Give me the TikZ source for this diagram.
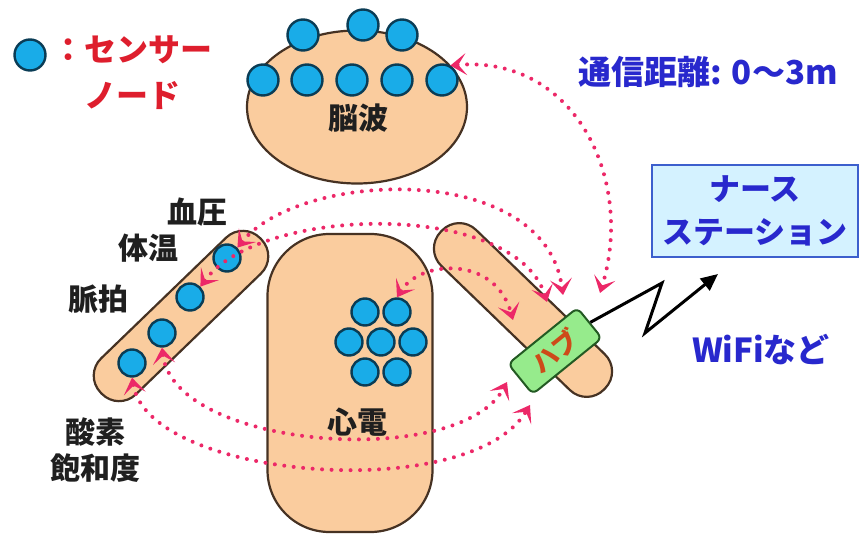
\documentclass[tikz,border=0pt]{standalone}
\usepackage{fontspec}
\setmainfont{Noto Sans CJK JP}
\usetikzlibrary{arrows.meta, shapes.geometric, positioning}

\definecolor{skin}{RGB}{250,204,158}
\definecolor{skinline}{RGB}{70,50,35}
\definecolor{sens}{RGB}{25,172,232}
\definecolor{sensline}{RGB}{10,60,85}
\definecolor{linkred}{RGB}{236,40,104}
\definecolor{legred}{RGB}{222,30,45}
\definecolor{navy}{RGB}{40,40,205}
\definecolor{boxfill}{RGB}{212,242,255}
\definecolor{boxline}{RGB}{60,95,205}
\definecolor{hubfill}{RGB}{150,235,140}
\definecolor{hubline}{RGB}{35,90,35}
\definecolor{hubtext}{RGB}{205,75,25}

\begin{document}
\begin{tikzpicture}[x=1pt, y=-1pt,
    body/.style={draw=skinline, fill=skin, line width=2.2pt, inner sep=0pt},
    sensor/.style={circle, draw=sensline, fill=sens, line width=2.4pt, inner sep=0pt, minimum size=#1},
    sensor/.default=31pt,
    lbl/.style={font=\fontsize{30}{34}\selectfont\bfseries, text=black!88, inner sep=0pt},
    note/.style={font=\fontsize{33}{36}\selectfont\bfseries, text=navy, inner sep=0pt},
    link/.style={draw=linkred, line width=4pt, line cap=round, dash pattern=on 0pt off 9.5pt,
        >={Stealth[length=16pt,width=22pt,inset=8pt]}, <->},
    bolt/.style={draw=black, line width=3pt, -{Triangle[length=17pt,width=15pt]}},
  ]
  \useasboundingbox (0,0) rectangle (865,537);

  % body
  \node[body, ellipse, minimum width=220pt, minimum height=153pt] (head) at (357,107) {};
  \node[body, rounded corners=62pt, minimum width=165pt, minimum height=298pt] (torso) at (350,383) {};
  \node[body, rounded corners=24pt, minimum width=222pt, minimum height=50pt, rotate=44] (larm) at (181,316) {};
  \node[body, rounded corners=24pt, minimum width=227pt, minimum height=50pt, rotate=-44] (rarm) at (523,310) {};

  % sensors
  \foreach \x/\y [count=\i] in {263/80, 307/80, 352/80, 397/80, 442/80, 303/35, 363/25, 402/35}
    \node[sensor] (h\i) at (\x,\y) {};
  \foreach \x/\y [count=\i] in {227/258, 190/297, 162/333, 132/363}
    \node[sensor=27pt] (a\i) at (\x,\y) {};
  \foreach \x/\y [count=\i] in {365/312, 397/312, 349/342, 381/342, 413/342, 365/372, 397/372}
    \node[sensor=27pt] (c\i) at (\x,\y) {};

  % legend
  \node[sensor] (key) at (30,55) {};
  \node[lbl, text=legred, align=center, font=\fontsize{32}{46}\selectfont\bfseries,
        right=6pt of key, yshift=-18pt] (keytext) {：センサー\\ノード};

  % labels
  \node[lbl] (eeg) at (358,118) {脳波};
  \node[lbl] (ecg) at (357,422) {心電};
  \node[lbl] (bp) at (197,212) {血圧};
  \node[lbl] (temp) at (148,248) {体温};
  \node[lbl] (pulse) at (98,299) {脈拍};
  \node[lbl, align=center, font=\fontsize{30}{36}\selectfont\bfseries] (spo2) at (95,450) {酸素\\飽和度};
  \node[note] (range) at (708,72) {通信距離: 0～3m};
  \node[note] (wifi) at (761,350) {WiFiなど};

  % nurse station
  \node[draw=boxline, fill=boxfill, line width=2pt, text=navy, align=center,
        minimum width=206pt, minimum height=92pt,
        font=\fontsize{31}{43}\selectfont\bfseries] (ns) at (755,211) {ナース\\ステーション};

  % hub on the wrist
  \node[draw=hubline, fill=hubfill, line width=2pt, rounded corners=6pt, rotate=39,
        minimum width=89pt, minimum height=39pt, inner sep=0pt, text=hubtext,
        font=\fontsize{26}{28}\selectfont\bfseries] (hub) at (555,351) {ハブ};

  \coordinate (pH) at ([shift={(45,-58)}]hub.center);
  \coordinate (pA) at ([shift={(8,-56)}]hub.center);
  \coordinate (pB) at ([shift={(-8,-49)}]hub.center);
  \coordinate (pE) at ([shift={(-42,-31)}]hub.center);
  \coordinate (pC) at ([shift={(-48,31)}]hub.center);
  \coordinate (pD) at ([shift={(-25,54)}]hub.center);
  \coordinate (wtip) at ([shift={(-37,16)}]ns.south);

  % radio links
  \draw[link] (h5.60) .. controls (575,55) and (635,180) .. (pH);
  \draw[link] (a1.45) .. controls (300,170) and (545,160) .. (pA);
  \draw[link] (a2.45) .. controls (260,205) and (515,200) .. (pB);
  \draw[link] (c2.north) .. controls (420,260) and (495,255) .. (pE);
  \draw[link] (a3.south) .. controls (175,450) and (460,470) .. (pC);
  \draw[link] (a4.south) .. controls (150,480) and (470,505) .. (pD);

  \draw[bolt] (hub.east) -- (662,283) -- (645,333) -- (wtip);
\end{tikzpicture}
\end{document}
